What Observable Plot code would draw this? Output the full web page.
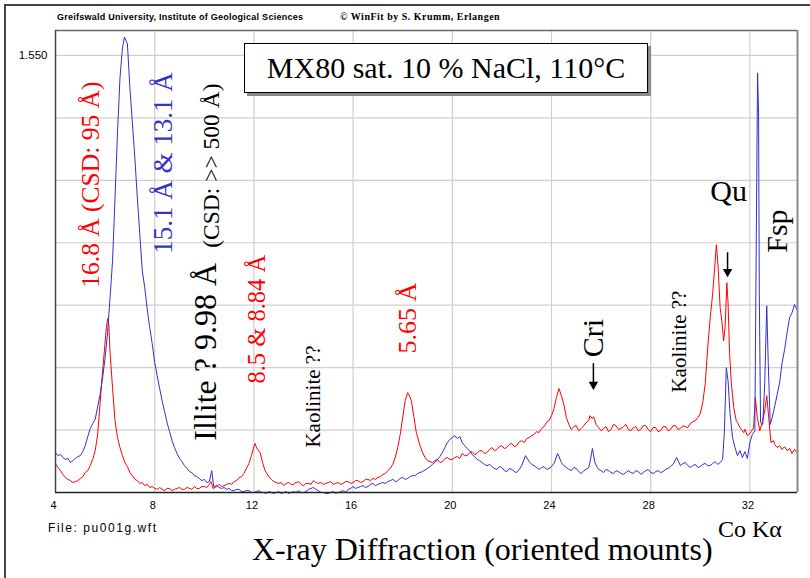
<!DOCTYPE html>
<html>
<head>
<meta charset="utf-8">
<script src="https://cdn.jsdelivr.net/npm/d3@7"></script>
<script src="https://cdn.jsdelivr.net/npm/@observablehq/plot@0.6"></script>
<style>
  html, body { margin: 0; padding: 0; background: #fff; overflow: hidden; }
  #page { position: relative; width: 810px; height: 578px; overflow: hidden; }
  #page > div.t { position: absolute; white-space: nowrap; line-height: 1; }
  .sans { font-family: "Liberation Sans", Arial, sans-serif; }
  .serif { font-family: "Liberation Serif", "Times New Roman", serif; }
  #border { position: absolute; left: 4px; top: 4px; width: 830px; height: 600px;
            border-left: 2px solid #444; border-top: 2px solid #444; }
  #titlebox { position: absolute; left: 244px; top: 43px; width: 402px; height: 48px;
              border: 1px solid #000; background: #fff; box-shadow: 3px 3px 0 #8a8a8a;
              text-align: center; line-height: 48px; font-size: 30px; }
  #chart svg text.ylab { letter-spacing: 1px; }
</style>
</head>
<body>
<div id="page">
  <div id="chart"></div>
  <div id="border"></div>
  <div class="t sans" style="left:57px;top:12.5px;font-size:9px;letter-spacing:0.25px;font-weight:bold;">Greifswald University, Institute of Geological Sciences</div>
  <div class="t serif" style="left:340px;top:12px;font-size:10px;letter-spacing:0.5px;font-weight:bold;">© WinFit by S. Krumm, Erlangen</div>
  <div id="titlebox" class="serif">MX80 sat. 10 % NaCl, 110°C</div>
  <div class="t sans" style="left:48px;top:521.8px;font-size:12px;letter-spacing:1.55px;">File: pu001g.wft</div>
  <div class="t serif" style="left:252px;top:533.2px;font-size:32px;">X-ray Diffraction (oriented mounts)</div>
  <div class="t serif" style="left:718px;top:516.9px;font-size:24px;">Co Kα</div>
</div>
<script>
// Diffractograms, 2θ (°, Co Kα) against intensity (counts)
// Red: MX80 sample, blue: second trace of the same sample
const redScan = [
  [4.0,243],[4.1,230],[4.2,220],[4.3,208],[4.4,198],[4.5,192],[4.6,188],[4.7,182],[4.8,185],[4.9,188],
  [5.0,195],[5.1,201],[5.2,214],[5.3,220],[5.4,236],[5.5,256],[5.6,284],[5.7,336],[5.8,438],[5.9,540],
  [6.0,630],[6.05,678],[6.1,707],[6.15,688],[6.2,598],[6.3,486],[6.4,380],[6.5,326],[6.6,294],[6.7,268],
  [6.8,246],[6.9,233],[7.0,214],[7.1,204],[7.2,192],[7.3,188],[7.4,179],[7.5,182],[7.6,172],[7.7,176],
  [7.8,166],[7.9,169],[8.0,163],[8.1,160],[8.2,166],[8.3,160],[8.4,156],[8.5,163],[8.6,163],[8.7,156],
  [8.8,160],[8.9,163],[9.0,166],[9.1,160],[9.2,160],[9.3,166],[9.4,163],[9.5,160],[9.6,169],[9.7,163],
  [9.8,163],[9.9,169],[10.0,169],[10.1,166],[10.2,176],[10.27,185],[10.35,163],[10.5,169],[10.6,176],
  [10.7,169],[10.8,172],[10.9,176],[11.0,179],[11.1,176],[11.2,185],[11.3,188],[11.4,198],[11.5,201],
  [11.6,211],[11.7,227],[11.8,243],[11.9,268],[12.0,297],[12.05,307],[12.1,295],[12.15,288],[12.25,278],
  [12.35,246],[12.45,220],[12.6,201],[12.7,192],[12.8,185],[12.9,182],[13.0,179],[13.1,182],[13.2,172],
  [13.3,179],[13.4,182],[13.5,176],[13.6,176],[13.7,182],[13.8,185],[13.9,176],[14.0,172],[14.1,179],
  [14.2,179],[14.3,176],[14.4,188],[14.5,182],[14.6,179],[14.7,182],[14.8,176],[14.9,179],[15.0,182],
  [15.1,185],[15.2,176],[15.3,179],[15.4,182],[15.5,176],[15.6,179],[15.7,185],[15.8,185],[15.9,179],
  [16.0,182],[16.1,188],[16.2,188],[16.3,182],[16.4,185],[16.5,192],[16.6,192],[16.7,188],[16.8,195],
  [16.9,192],[17.0,198],[17.1,201],[17.2,208],[17.3,211],[17.4,220],[17.5,227],[17.6,240],[17.7,262],
  [17.8,294],[17.9,336],[18.0,390],[18.1,444],[18.2,470],[18.27,460],[18.35,444],[18.45,393],[18.55,342],
  [18.7,300],[18.8,278],[18.9,262],[19.0,252],[19.1,249],[19.2,246],[19.3,252],[19.4,256],[19.5,246],
  [19.6,249],[19.7,259],[19.8,262],[19.9,256],[20.0,256],[20.1,262],[20.2,265],[20.3,259],[20.4,275],
  [20.5,268],[20.6,268],[20.7,278],[20.8,281],[20.9,272],[21.0,275],[21.1,284],[21.2,284],[21.3,275],
  [21.4,278],[21.5,288],[21.6,294],[21.7,284],[21.8,288],[21.9,297],[22.0,300],[22.1,291],[22.2,294],
  [22.3,304],[22.4,307],[22.5,297],[22.6,300],[22.7,313],[22.8,316],[22.9,310],[23.0,323],[23.1,326],
  [23.2,332],[23.3,336],[23.4,345],[23.5,342],[23.6,355],[23.7,361],[23.8,374],[23.9,380],[24.0,396],
  [24.1,419],[24.2,454],[24.3,483],[24.4,460],[24.5,432],[24.6,390],[24.7,368],[24.8,352],[24.9,361],
  [25.0,364],[25.1,348],[25.2,355],[25.3,364],[25.4,374],[25.5,380],[25.55,396],[25.65,387],[25.7,393],
  [25.8,368],[25.9,358],[26.0,348],[26.1,355],[26.2,361],[26.3,345],[26.4,352],[26.5,368],[26.6,364],
  [26.7,352],[26.8,355],[26.9,361],[27.0,368],[27.1,352],[27.2,348],[27.3,358],[27.4,361],[27.5,348],
  [27.6,352],[27.7,364],[27.8,364],[27.9,352],[28.0,345],[28.1,358],[28.2,358],[28.3,345],[28.4,348],
  [28.5,361],[28.6,361],[28.7,348],[28.8,352],[28.9,364],[29.0,364],[29.1,352],[29.2,355],[29.3,364],
  [29.4,361],[29.5,358],[29.6,371],[29.7,377],[29.8,380],[29.9,390],[30.0,403],[30.1,438],[30.2,499],
  [30.3,614],[30.4,710],[30.5,787],[30.58,870],[30.65,944],[30.72,870],[30.8,742],[30.87,700],[30.94,636],
  [31.0,678],[31.07,822],[31.12,758],[31.18,598],[31.25,502],[31.35,422],[31.45,380],[31.5,374],
  [31.6,358],[31.7,348],[31.75,342],[31.8,352],[31.9,332],[32.0,339],[32.05,345],[32.15,358],[32.22,454],
  [32.3,390],[32.4,348],[32.5,374],[32.6,412],[32.68,460],[32.76,390],[32.85,310],[32.95,316],[33.0,304],
  [33.1,294],[33.2,300],[33.3,288],[33.4,297],[33.5,284],[33.6,291],[33.7,275],[33.8,288],[33.9,278]
];

const blueScan = [
  [4.0,278],[4.1,268],[4.2,272],[4.3,262],[4.4,256],[4.5,259],[4.6,246],[4.7,252],[4.8,259],[4.9,265],
  [5.0,268],[5.1,281],[5.2,300],[5.3,329],[5.4,355],[5.5,371],[5.6,384],[5.7,425],[5.8,464],[5.9,518],
  [6.0,582],[6.1,662],[6.2,774],[6.3,892],[6.4,1094],[6.5,1302],[6.6,1478],[6.7,1574],[6.78,1609],
  [6.85,1596],[6.9,1587],[7.0,1446],[7.1,1334],[7.2,1222],[7.3,1094],[7.4,976],[7.5,860],[7.6,806],
  [7.7,736],[7.8,678],[7.9,627],[8.0,566],[8.05,547],[8.1,524],[8.2,483],[8.3,444],[8.4,409],[8.5,374],
  [8.6,345],[8.7,316],[8.8,294],[8.9,275],[9.0,259],[9.1,249],[9.2,236],[9.3,227],[9.4,217],[9.5,214],
  [9.6,204],[9.7,201],[9.8,195],[9.9,188],[10.0,192],[10.1,182],[10.2,185],[10.3,220],[10.38,169],
  [10.5,172],[10.6,166],[10.7,163],[10.8,166],[10.9,160],[11.0,163],[11.1,156],[11.2,156],[11.3,160],
  [11.4,160],[11.5,153],[11.6,153],[11.7,156],[11.8,156],[11.9,150],[12.0,150],[12.1,153],[12.2,156],
  [12.3,150],[12.4,150],[12.5,147],[12.6,153],[12.7,150],[12.8,147],[12.9,150],[13.0,153],[13.1,147],
  [13.2,150],[13.3,153],[13.4,147],[13.5,150],[13.6,153],[13.7,150],[13.8,156],[13.9,150],[14.0,150],
  [14.1,153],[14.2,160],[14.3,163],[14.4,166],[14.5,160],[14.6,156],[14.7,150],[14.8,150],[14.9,147],
  [15.0,147],[15.1,150],[15.2,153],[15.3,147],[15.4,150],[15.5,153],[15.6,156],[15.7,150],[15.8,160],
  [15.9,163],[16.0,169],[16.1,163],[16.2,166],[16.3,169],[16.4,172],[16.5,166],[16.6,169],[16.7,176],
  [16.8,179],[16.9,172],[17.0,176],[17.1,179],[17.2,182],[17.3,179],[17.4,185],[17.5,188],[17.6,192],
  [17.7,185],[17.8,188],[17.9,195],[18.0,198],[18.1,192],[18.2,195],[18.3,201],[18.4,204],[18.5,204],
  [18.6,211],[18.7,214],[18.8,217],[18.9,222],[19.0,227],[19.1,233],[19.2,240],[19.3,246],[19.4,256],
  [19.5,265],[19.6,278],[19.7,294],[19.8,310],[19.9,320],[20.0,326],[20.1,332],[20.2,323],[20.3,329],
  [20.4,310],[20.5,300],[20.6,291],[20.7,284],[20.8,272],[20.9,265],[21.0,256],[21.1,252],[21.2,246],
  [21.3,240],[21.4,236],[21.5,240],[21.6,233],[21.7,227],[21.8,224],[21.9,233],[22.0,230],[22.1,220],
  [22.2,217],[22.3,227],[22.4,224],[22.5,217],[22.6,214],[22.7,224],[22.8,236],[22.95,268],[23.1,249],
  [23.2,240],[23.3,236],[23.4,230],[23.5,224],[23.6,230],[23.7,233],[23.8,224],[23.9,227],[24.0,233],
  [24.1,243],[24.25,275],[24.4,246],[24.5,236],[24.6,230],[24.7,224],[24.8,220],[24.9,230],[25.0,227],
  [25.1,217],[25.2,211],[25.3,220],[25.4,224],[25.5,230],[25.55,246],[25.65,291],[25.75,246],[25.85,230],
  [25.9,224],[26.0,220],[26.1,214],[26.2,224],[26.3,220],[26.4,214],[26.5,211],[26.6,220],[26.7,217],
  [26.8,211],[26.9,208],[27.0,214],[27.1,220],[27.2,214],[27.3,211],[27.4,220],[27.5,217],[27.6,208],
  [27.7,214],[27.8,220],[27.9,224],[28.0,214],[28.1,211],[28.2,217],[28.3,220],[28.4,214],[28.5,217],
  [28.6,224],[28.7,227],[28.8,233],[28.9,240],[29.05,262],[29.2,236],[29.3,243],[29.4,246],[29.5,236],
  [29.6,230],[29.7,236],[29.8,240],[29.9,230],[30.0,233],[30.1,240],[30.2,243],[30.3,236],[30.4,236],
  [30.5,243],[30.6,249],[30.7,240],[30.8,246],[30.9,256],[30.97,342],[31.05,550],[31.12,508],[31.2,403],
  [31.3,326],[31.4,294],[31.5,268],[31.6,284],[31.7,262],[31.8,281],[31.9,259],[32.0,310],[32.1,336],
  [32.2,348],[32.26,982],[32.31,1494],[32.35,1366],[32.38,790],[32.43,374],[32.52,368],[32.6,502],
  [32.68,748],[32.74,566],[32.82,368],[32.9,390],[33.0,425],[33.1,464],[33.2,502],[33.3,566],[33.4,608],
  [33.5,662],[33.6,710],[33.7,726],[33.8,752],[33.9,736]
];

const xTicks = [4, 8, 12, 16, 20, 24, 28, 32];
const xGrid = [8, 12, 16, 20, 24, 28, 32];
const yGrid = [350, 550, 750, 950, 1150, 1350, 1550];
const yLabelled = [1550];

// Peak annotations: position (2θ, counts) is where the rotated text starts
const peakLabels = [
  {text: "16.8 Å (CSD: 95 Å)", x: 5.41, y: 806, color: "#ff0000", size: 25.5},
  {text: "15.1 Å & 13.1 Å", x: 8.35, y: 915, color: "#3333cc", size: 27},
  {text: "Illite ? 9.98 Å", x: 10.05, y: 316, color: "#000000", size: 32},
  {text: "(CSD: >> 500 Å)", x: 10.27, y: 934, color: "#000000", size: 23.5},
  {text: "8.5 & 8.84 Å", x: 12.15, y: 499, color: "#ff0000", size: 24.5},
  {text: "Kaolinite ??", x: 14.4, y: 294, color: "#000000", size: 21},
  {text: "5.65 Å", x: 18.19, y: 595, color: "#ff0000", size: 26},
  {text: "Cri", x: 25.69, y: 583, color: "#000000", size: 30},
  {text: "Kaolinite ??", x: 29.16, y: 470, color: "#000000", size: 21},
  {text: "Fsp", x: 33.11, y: 918, color: "#000000", size: 30}
];
const uprightLabels = [
  {text: "Qu", x: 31.14, y: 1084, size: 30}
];
// Pointer arrows: shaft top, shaft bottom, head centre
const pointers = [
  {x: 25.69, top: 563, bottom: 500, head: 496},
  {x: 31.1, top: 918, bottom: 862, head: 857}
];

const euro = d3.formatLocale({decimal: ",", thousands: ".", grouping: [3], currency: ["", ""]}).format(",");

const chart = Plot.plot({
  width: 810,
  height: 578,
  marginLeft: 55,
  marginRight: 13,
  marginTop: 30,
  marginBottom: 86,
  style: {fontFamily: "Liberation Sans, Arial, sans-serif", background: "transparent"},
  x: {domain: [4, 33.92], label: null},
  y: {domain: [150, 1630], label: null},
  marks: [
    Plot.gridX(xGrid, {stroke: "#cfcfcf", strokeOpacity: 1, strokeWidth: 1.2}),
    Plot.gridY(yGrid, {stroke: "#cfcfcf", strokeOpacity: 1, strokeWidth: 1.2}),
    Plot.axisX(xTicks, {tickSize: 0, tickPadding: 9, fontSize: 11, dx: -2}),
    Plot.axisY(yLabelled, {tickSize: 0, tickPadding: 8, fontSize: 11.5, tickFormat: euro, className: "ylab"}),
    Plot.line(redScan, {x: d => d[0], y: d => d[1], stroke: "#ff0000", strokeWidth: 1}),
    Plot.line(blueScan, {x: d => d[0], y: d => d[1], stroke: "#3030d0", strokeWidth: 1}),
    Plot.ruleY([1630], {stroke: "#666", strokeWidth: 1.5}),
    Plot.ruleX([4], {stroke: "#444", strokeWidth: 1.5}),
    Plot.ruleX([33.92], {stroke: "#8a8a8a", strokeWidth: 2}),
    Plot.ruleY([150], {stroke: "#222", strokeWidth: 1.5}),
    Plot.text(peakLabels, {
      x: "x", y: "y", text: "text", fill: d => d.color, fontSize: d => d.size,
      rotate: -90, textAnchor: "start", lineAnchor: "middle",
      fontFamily: "Liberation Serif, Times New Roman, serif"
    }),
    Plot.text(uprightLabels, {
      x: "x", y: "y", text: "text", fontSize: 30, textAnchor: "middle", lineAnchor: "bottom",
      fill: "#000", fontFamily: "Liberation Serif, Times New Roman, serif"
    }),
    Plot.ruleX(pointers, {x: "x", y1: "top", y2: "bottom", stroke: "#000", strokeWidth: 1.5}),
    Plot.dot(pointers, {x: "x", y: "head", symbol: "triangle2", r: 4.5, rotate: 180, fill: "#000", stroke: null})
  ]
});
chart.style.position = "absolute";
chart.style.left = "0px";
chart.style.top = "0px";
document.getElementById("chart").appendChild(chart);
</script>
</body>
</html>
